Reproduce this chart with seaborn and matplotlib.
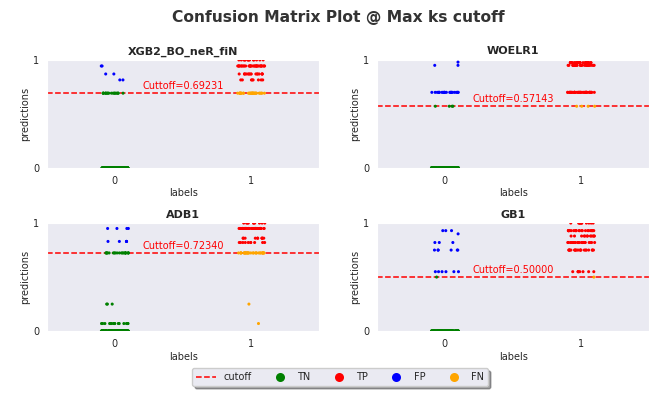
import numpy as np
import pandas as pd
import matplotlib
matplotlib.use("Agg")
import matplotlib.pyplot as plt
import seaborn as sns
from matplotlib.lines import Line2D

np.random.seed(3)

# one entry per model: prediction levels, true label and number of cases at that level
models = ["XGB2_BO_neR_fiN", "WOELR1", "ADB1", "GB1"]
cutoffs = [0.69231, 0.57143, 0.72340, 0.50000]

xgb_pred = [0.0, 0.69231, 0.944, 0.87, 0.815, 1.0, 0.944, 0.87, 0.815, 0.69231]
xgb_label = [0, 0, 0, 0, 0, 1, 1, 1, 1, 1]
xgb_count = [200, 18, 2, 2, 2, 14, 32, 16, 8, 30]

woe_pred = [0.0, 0.57143, 0.70, 0.95, 0.98, 0.70, 0.95, 0.975, 0.57143]
woe_label = [0, 0, 0, 0, 0, 1, 1, 1, 1]
woe_count = [200, 4, 22, 2, 1, 40, 30, 30, 4]

adb_pred = [0.0, 0.07, 0.25, 0.72340, 0.83, 0.95, 1.0, 0.95, 0.86, 0.82, 0.72340, 0.25, 0.07]
adb_label = [0, 0, 0, 0, 0, 0, 1, 1, 1, 1, 1, 1, 1]
adb_count = [200, 16, 3, 20, 5, 4, 10, 45, 10, 10, 30, 1, 1]

gb_pred = [0.0, 0.50, 0.55, 0.75, 0.82, 0.90, 0.93, 1.0, 0.93, 0.88, 0.82, 0.75, 0.55, 0.50]
gb_label = [0, 0, 0, 0, 0, 0, 0, 1, 1, 1, 1, 1, 1, 1]
gb_count = [200, 1, 6, 6, 3, 1, 3, 12, 22, 12, 22, 20, 8, 1]

preds = [xgb_pred, woe_pred, adb_pred, gb_pred]
labels = [xgb_label, woe_label, adb_label, gb_label]
counts = [xgb_count, woe_count, adb_count, gb_count]

classes = ["TN", "TP", "FP", "FN"]
palette = {"TN": "green", "TP": "red", "FP": "blue", "FN": "orange"}


def build_frame(pred, label, count, cutoff):
    p = np.repeat(pred, count)
    y = np.repeat(label, count)
    pos = p > cutoff + 1e-9
    cls = np.where(y == 1, np.where(pos, "TP", "FN"), np.where(pos, "FP", "TN"))
    return pd.DataFrame({"labels": y, "predictions": p, "class": cls})


sns.set_style("dark")
fig, axes = plt.subplots(2, 2, figsize=(6.58, 3.97), dpi=100)
fig.subplots_adjust(left=0.071, right=0.987, top=0.849, bottom=0.166,
                    wspace=0.21, hspace=0.51)

for ax, name, cut, pr, lb, ct in zip(axes.flat, models, cutoffs, preds, labels, counts):
    df = build_frame(pr, lb, ct, cut)
    sns.stripplot(data=df, x="labels", y="predictions", hue="class",
                  hue_order=classes, palette=palette, jitter=0.1, size=2.2,
                  linewidth=0, ax=ax, legend=False)
    ax.axhline(cut, color="red", linestyle="--", linewidth=1.1)
    ax.text(0.5, cut + 0.02, "Cuttoff=%.5f" % cut, color="red",
            ha="center", va="bottom", fontsize=7)
    ax.set_xlim(-0.5, 1.5)
    ax.set_ylim(0, 1)
    ax.set_yticks([0, 1])
    ax.set_yticklabels(["0", "1"])
    ax.tick_params(labelsize=7, pad=2)
    ax.set_xlabel("labels", fontsize=7, labelpad=2)
    ax.set_ylabel("predictions", fontsize=7, labelpad=2)
    ax.set_title(name, fontsize=8, fontweight="bold", pad=4)

fig.suptitle("Confusion Matrix Plot @ Max ks cutoff", fontsize=11.2,
             fontweight="bold", color="#333333", x=0.514, y=0.975)

handles = [Line2D([0], [0], color="red", linestyle="--", lw=1.1)]
for c in classes:
    handles.append(Line2D([0], [0], marker="o", color="none",
                          markerfacecolor=palette[c], markeredgecolor="none",
                          markersize=6.5))
fig.legend(handles, ["cutoff"] + classes, loc="center", ncol=5,
           bbox_to_anchor=(0.517, 0.05), fontsize=7, frameon=True,
           shadow=True, handlelength=2.0, columnspacing=1.9, borderpad=0.4)

fig.savefig("out.png", dpi=100)
